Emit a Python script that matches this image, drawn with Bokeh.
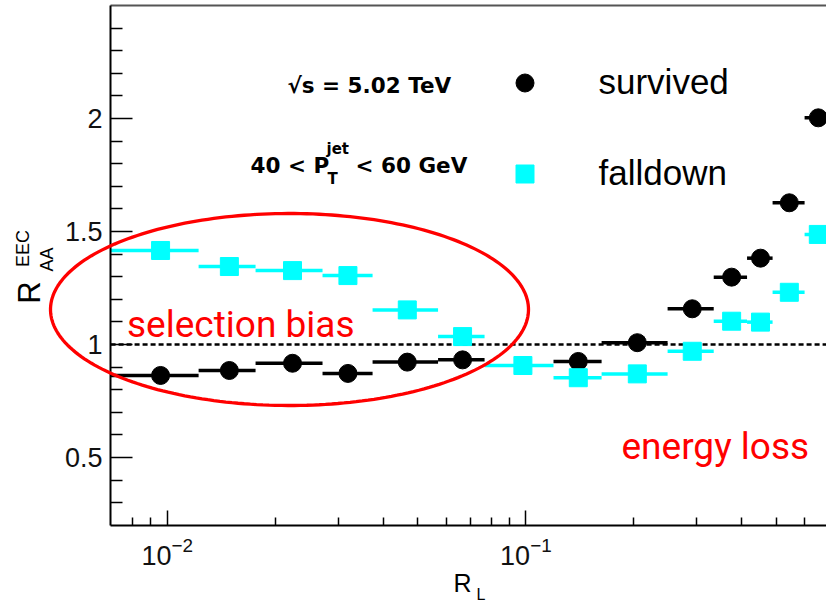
import numpy as np
from bokeh.plotting import figure
from bokeh.models import (Range1d, LinearAxis, FixedTicker, Label, LogTickFormatter,
                          PolyAnnotation, Legend, LegendItem)
from bokeh.embed import file_html
from bokeh.resources import INLINE

# ---------------- data ----------------
rl_survived = [0.00958, 0.0149, 0.02235, 0.0319, 0.0467, 0.0666, 0.140,
               0.2045, 0.291, 0.3747, 0.451, 0.5427, 0.6537]
raa_survived = [0.863, 0.885, 0.917, 0.872, 0.922, 0.932, 0.925,
                1.008, 1.158, 1.298, 1.382, 1.627, 2.003]
rl_survived_lo = [0.00695, 0.01223, 0.01763, 0.0271, 0.03737, 0.0569, 0.1194,
                  0.1626, 0.2484, 0.334, 0.4137, 0.4874, 0.5986]
rl_survived_hi = [0.01223, 0.01763, 0.0271, 0.03737, 0.0569, 0.0767, 0.1626,
                  0.2484, 0.334, 0.4137, 0.4874, 0.5986, 0.72]

rl_falldown = [0.00958, 0.0149, 0.02235, 0.0319, 0.0467, 0.0666, 0.0981,
               0.140, 0.2045, 0.291, 0.3747, 0.451, 0.5427, 0.6537]
raa_falldown = [1.416, 1.345, 1.327, 1.305, 1.153, 1.035, 0.907,
                0.853, 0.870, 0.970, 1.103, 1.099, 1.231, 1.487]
rl_falldown_lo = [0.00695, 0.01223, 0.01763, 0.0271, 0.03737, 0.0569, 0.0767,
                  0.1194, 0.1626, 0.2484, 0.334, 0.4137, 0.4874, 0.5986]
rl_falldown_hi = [0.01223, 0.01763, 0.0271, 0.03737, 0.0569, 0.0767, 0.1194,
                  0.1626, 0.2484, 0.334, 0.4137, 0.4874, 0.5986, 0.72]

x_major_ticks = [0.01, 0.1]
x_minor_ticks = [0.008, 0.009, 0.02, 0.03, 0.04, 0.05, 0.06, 0.07, 0.08, 0.09,
                 0.2, 0.3, 0.4, 0.5, 0.6]
y_major_ticks = [0.5, 1, 1.5, 2]
y_minor_ticks = [0.3, 0.4, 0.6, 0.7, 0.8, 0.9, 1.1, 1.2, 1.3, 1.4,
                 1.6, 1.7, 1.8, 1.9, 2.1, 2.2, 2.3, 2.4]
y_tick_labels = {0.5: "0.5", 1: "1", 1.5: "1.5", 2: "2"}

series_names = ["survived", "falldown"]
reference_line = 1.0

# axes box of the original chart (data units)
x_box = (0.00695, 0.689)
y_box = (0.2, 2.5)

# ---------------- figure ----------------
# the frame fills the whole canvas; the axes are pinned at the box edges
p = figure(width=826, height=602, x_axis_type="log",
           x_range=Range1d(0.003428, 0.689), y_range=Range1d(-0.1416, 2.5221),
           output_backend="svg", toolbar_location=None, min_border=0,
           min_border_left=0, min_border_right=0, min_border_top=0,
           min_border_bottom=0)
p.outline_line_color = None
p.xgrid.grid_line_color = None
p.ygrid.grid_line_color = None
p.background_fill_color = "white"
p.border_fill_color = "white"

xa = p.xaxis[0]
xa.fixed_location = y_box[0]
xa.bounds = x_box
xa.ticker = FixedTicker(ticks=x_major_ticks, minor_ticks=x_minor_ticks)
xa.formatter = LogTickFormatter()
xa.axis_line_width = 2
xa.axis_line_color = "black"
xa.major_tick_in = 15
xa.major_tick_out = 0
xa.minor_tick_in = 8
xa.minor_tick_out = 0
xa.major_tick_line_width = 1.5
xa.minor_tick_line_width = 1.5
xa.major_label_text_font = "Liberation Sans"
xa.major_label_text_font_size = "27px"
xa.major_label_text_color = "#111111"
xa.major_label_standoff = 12

ya = p.yaxis[0]
ya.fixed_location = x_box[0]
ya.bounds = y_box
ya.ticker = FixedTicker(ticks=y_major_ticks, minor_ticks=y_minor_ticks)
ya.major_label_overrides = y_tick_labels
ya.axis_line_width = 2
ya.axis_line_color = "black"
ya.major_tick_in = 22
ya.major_tick_out = 0
ya.minor_tick_in = 12
ya.minor_tick_out = 0
ya.major_tick_line_width = 1.5
ya.minor_tick_line_width = 1.5
ya.major_label_text_font = "Liberation Sans"
ya.major_label_text_font_size = "27px"
ya.major_label_text_color = "#111111"
ya.major_label_standoff = 8

top = LinearAxis(ticker=FixedTicker(ticks=[]), major_label_text_font_size="0px",
                 fixed_location=y_box[1], bounds=x_box,
                 axis_line_width=2, axis_line_color="#555555",
                 major_tick_in=0, major_tick_out=0, minor_tick_in=0, minor_tick_out=0,
                 major_label_standoff=0)
p.add_layout(top, "above")

# dashed reference line at 1 across the box
p.segment(x0=[x_box[0]], y0=[reference_line], x1=[x_box[1]], y1=[reference_line],
          line_color="black", line_width=2.5, line_dash="5 3")

# survived
p.segment(x0=rl_survived_lo, y0=raa_survived, x1=rl_survived_hi, y1=raa_survived,
          line_color="black", line_width=3.5)
r_s = p.scatter(rl_survived, raa_survived, marker="circle", size=18,
                fill_color="black", line_color="black")

# falldown
p.segment(x0=rl_falldown_lo, y0=raa_falldown, x1=rl_falldown_hi, y1=raa_falldown,
          line_color="#00ffff", line_width=3.5)
r_f = p.scatter(rl_falldown, raa_falldown, marker="square", size=18,
                fill_color="#00ffff", line_color="#00ffff")

legend = Legend(items=[LegendItem(label=series_names[0], renderers=[r_s]),
                       LegendItem(label=series_names[1], renderers=[r_f])],
                location=(501.5, 406.5), glyph_width=45, glyph_height=45,
                spacing=46, label_standoff=52, padding=0, margin=0,
                border_line_color=None, background_fill_alpha=0,
                label_text_font="Liberation Sans", label_text_font_size="35px",
                label_text_color="black")
p.add_layout(legend)

def lab(x, y, text, size, font="Liberation Sans", style="normal", color="black",
        angle=0.0, align="left", baseline="alphabetic"):
    p.add_layout(Label(x=x, y=y, x_units="canvas", y_units="canvas", text=text,
                       text_font=font, text_font_size=size, text_font_style=style,
                       text_color=color, angle=angle, text_align=align,
                       text_baseline=baseline))

# header texts
lab(287, 85, "√s = 5.02 TeV", "21.5px", font="DejaVu Sans", style="bold")
lab(250, 165, "40 < P", "21.5px", font="DejaVu Sans", style="bold")
lab(326, 148, "jet", "15px", font="DejaVu Sans", style="bold")
lab(327, 178, "T", "15px", font="DejaVu Sans", style="bold")
lab(355, 165, "< 60 GeV", "21.5px", font="DejaVu Sans", style="bold")

# annotations
lab(126.5, 324, "selection bias", "37px", font="Roboto", color="#ff0000")
lab(621, 446, "energy loss", "37px", font="Roboto", color="#ff0000")

# axis titles
lab(453, 582, "R", "25px")
lab(476, 594, "L", "16px")
lab(29, 292, "R", "31px", angle=np.pi / 2, align="center")
lab(22, 248, "EEC", "18px", angle=np.pi / 2, align="center")
lab(46, 259, "AA", "18px", angle=np.pi / 2, align="center")

# ellipse
t = np.linspace(0, 2 * np.pi, 240)
ell = PolyAnnotation(xs=list(289 + 239 * np.cos(t)), ys=list(309 + 96 * np.sin(t)),
                     xs_units="canvas", ys_units="canvas",
                     fill_alpha=0, line_color="#ff0000", line_alpha=1.0,
                     line_width=3.3, level="overlay")
p.add_layout(ell)

open("out.html", "w").write(file_html(p, INLINE))
